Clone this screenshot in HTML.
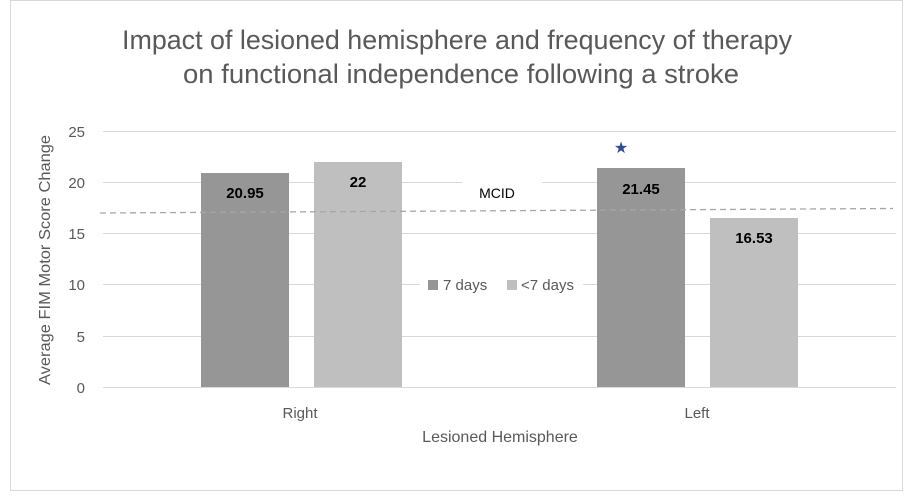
<!DOCTYPE html>
<html><head><meta charset="utf-8"><style>
html,body{margin:0;padding:0;background:#fff;}
svg{display:block;font-family:"Liberation Sans",Calibri,sans-serif;}
</style></head><body>
<svg width="913" height="500" viewBox="0 0 913 500" xmlns="http://www.w3.org/2000/svg">
<rect x="10.5" y="0.5" width="892" height="490" fill="#fff" stroke="#d9d9d9"/>
<text x="457" y="49" font-size="26.5" fill="#595959" text-anchor="middle" textLength="670" lengthAdjust="spacingAndGlyphs">Impact of lesioned hemisphere and frequency of therapy</text>
<text x="461" y="83" font-size="26.5" fill="#595959" text-anchor="middle" textLength="556" lengthAdjust="spacingAndGlyphs">on functional independence following a stroke</text>
<g stroke="#d9d9d9" stroke-width="1">
<line x1="103" y1="131.5" x2="896" y2="131.5"/>
<line x1="103" y1="182.5" x2="896" y2="182.5"/>
<line x1="103" y1="233.5" x2="896" y2="233.5"/>
<line x1="103" y1="284.5" x2="896" y2="284.5"/>
<line x1="103" y1="336.5" x2="896" y2="336.5"/>
<line x1="103" y1="387.5" x2="896" y2="387.5"/>
</g>
<g font-size="15" fill="#595959" text-anchor="end">
<text x="85" y="137">25</text><text x="85" y="188">20</text><text x="85" y="239">15</text>
<text x="85" y="290">10</text><text x="85" y="342">5</text><text x="85" y="393">0</text>
</g>
<text transform="translate(50,260) rotate(-90)" font-size="16" fill="#595959" text-anchor="middle" textLength="250" lengthAdjust="spacingAndGlyphs">Average FIM Motor Score Change</text>
<rect x="201" y="173" width="88" height="214" fill="#969696"/>
<rect x="314" y="162" width="88" height="225" fill="#bfbfbf"/>
<rect x="597" y="168" width="88" height="219" fill="#969696"/>
<rect x="710" y="218" width="88" height="169" fill="#bfbfbf"/>
<rect x="462" y="172" width="80" height="34" fill="#fff"/>
<text x="497" y="198" font-size="14" fill="#000" text-anchor="middle">MCID</text>
<line x1="100" y1="213" x2="893" y2="208.5" stroke="#a6a6a6" stroke-width="1.3" stroke-dasharray="6,4"/>
<g font-size="15" font-weight="bold" fill="#000" text-anchor="middle">
<text x="245" y="198">20.95</text><text x="358" y="187">22</text>
<text x="641" y="194">21.45</text><text x="754" y="243">16.53</text>
</g>
<text x="621" y="153" font-size="16" fill="#2f4f8f" text-anchor="middle">★</text>
<rect x="420" y="274" width="163" height="22" fill="#fff"/>
<rect x="428" y="280" width="10" height="10" fill="#969696"/>
<text x="443" y="290" font-size="15" fill="#595959">7 days</text>
<rect x="507" y="280" width="10" height="10" fill="#bfbfbf"/>
<text x="521" y="290" font-size="15" fill="#595959">&lt;7 days</text>
<text x="300" y="418" font-size="15" fill="#595959" text-anchor="middle">Right</text>
<text x="697" y="418" font-size="15" fill="#595959" text-anchor="middle">Left</text>
<text x="500" y="442" font-size="16" fill="#595959" text-anchor="middle">Lesioned Hemisphere</text>
</svg>
</body></html>
